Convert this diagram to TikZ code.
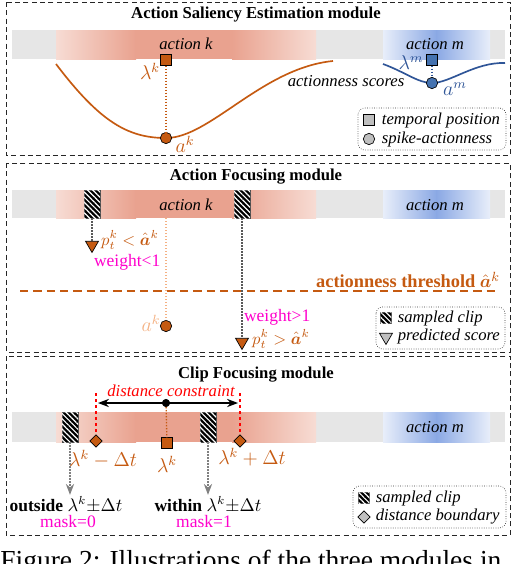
\documentclass[tikz,border=0pt]{standalone}
\usepackage{fontspec}
\setmainfont{Liberation Serif}
\usepackage{bm}
\usepackage{amsmath}
\usetikzlibrary{shapes.geometric,patterns.meta,arrows.meta}

\definecolor{korange}{RGB}{197,90,17}
\definecolor{kpale}{RGB}{244,177,131}
\definecolor{mblue}{RGB}{47,85,151}
\definecolor{mfill}{RGB}{68,114,176}
\definecolor{wpink}{RGB}{255,0,204}
\definecolor{barback}{RGB}{230,230,230}
\definecolor{redpeak}{RGB}{233,162,143}
\definecolor{redpale}{RGB}{247,220,212}
\definecolor{bluepeak}{RGB}{138,168,228}
\definecolor{bluepale}{RGB}{232,238,250}
\definecolor{lgrey}{RGB}{191,191,191}

\begin{document}
\begin{tikzpicture}[x=.6pt, y=-.6pt, >=Stealth,
  tpos/.style={draw, rectangle, minimum size=6.4pt, inner sep=0},
  spike/.style={draw, circle, minimum size=6.8pt, inner sep=0},
  score/.style={draw, regular polygon, regular polygon sides=3,
    shape border rotate=180, minimum size=9pt, inner sep=0},
  bound/.style={draw, diamond, minimum size=7.6pt, inner sep=0},
  sampled/.style={draw=gray!60!black, fill=black, minimum width=9.6pt,
    minimum height=#1, inner sep=0, postaction={pattern={Lines[angle=-45,
    distance=2.2pt, line width=.7pt]}, pattern color=white}},
  sampled/.default=16.8pt,
  legendbox/.style={draw=gray!40!black, densely dotted, rounded corners=4pt},
  lab/.style={anchor=west, font=\itshape},
  mlab/.style={font=\fontsize{11.5}{13}\selectfont, inner sep=1pt},
  small/.style={font=\fontsize{10.5}{12}\selectfont, inner sep=1pt}]
\useasboundingbox (0,0) rectangle (512,564);

\foreach \t/\b in {2/155, 163/352, 356/535}
  \draw [densely dashed, gray!30!black] (6,\t) rectangle (510,\b);
\foreach \t/\b in {30/59, 190/218, 412/442} {
  \fill [barback] (12,\t) rectangle (505,\b);
  \shade [left color=redpale, right color=redpeak] (56,\t) rectangle (136,\b);
  \fill [redpeak] (135,\t) rectangle (233,\b);
  \shade [left color=redpeak, right color=redpale] (232,\t) rectangle (316,\b);
  \shade [left color=bluepale, right color=bluepeak] (383,\t) rectangle (437,\b);
  \shade [left color=bluepeak, right color=bluepale] (436,\t) rectangle (490,\b);
}

% action saliency estimation
\node [font=\bfseries] (t1) at (256,15) {Action Saliency Estimation module};
\node [font=\itshape] (ka) at (186,44) {action k};
\node [font=\itshape] (ma) at (435,44) {action m};
\draw [korange, line width=1pt] (56,64) .. controls (100,122) and (128,138) ..
  (166,138) .. controls (210,138) and (262,68) .. (333,61);
\draw [mblue, line width=1pt] (383,64) .. controls (405,72) and (418,83) ..
  (432,83) .. controls (450,83) and (475,62) .. (505,63);
\node [tpos, fill=korange] (lk) at (166,60) {};
\node [spike, fill=korange] (ak) at (166,138) {};
\draw [korange, densely dotted, thick] (lk) -- (ak);
\node [korange, mlab] (lkl) at (150,71) {$\lambda^k$};
\node [korange, mlab] (akl) at (185,144) {$a^k$};
\node [tpos, fill=mfill] (lm) at (432,60) {};
\node [spike, fill=mfill] (am) at (432,83) {};
\draw [mblue, densely dotted, thick] (lm) -- (am);
\node [mblue, mlab] (lml) at (411,63) {$\lambda^m$};
\node [mblue, mlab] (aml) at (455,89) {$a^m$};
\node [font=\itshape] (sc) at (346,81) {actionness scores};
\draw [legendbox] (358,108) rectangle (506,150);
\node [tpos, fill=lgrey] (g1) at (369,120) {};
\node [lab] at (376,120) {temporal position};
\node [spike, fill=lgrey] (g2) at (369,139) {};
\node [lab] at (376,139) {spike-actionness};

% action focusing
\node [font=\bfseries] (t2) at (256,177) {Action Focusing module};
\node [font=\itshape] (ka2) at (186,205) {action k};
\node [font=\itshape] (ma2) at (435,205) {action m};
\draw [korange, line width=1.2pt, dash pattern=on 5pt off 3pt] (20,291) -- (495,291);
\node [korange, font=\fontsize{11}{13}\selectfont\bfseries, anchor=east,
  inner sep=1pt] (th) at (502,280) {actionness threshold $\bm{\hat a}^k$};
\node [sampled] (c1) at (92,204) {};
\node [sampled] (c2) at (242,204) {};
\node [score, fill=korange] (p1) at (92,245) {};
\node [score, fill=korange] (p2) at (242,342) {};
\draw [gray!70!black, densely dotted, thick] (c1) -- (p1);
\draw [gray!70!black, densely dotted, thick] (c2) -- (p2);
\node [korange, anchor=west, inner sep=.5pt] (p1l) at (100,240)
  {$p_t^k<\bm{\hat a}^k$};
\node [wpink, anchor=west, small] (w1) at (92,262) {weight<1};
\node [wpink, anchor=west, small] (w2) at (242,317) {weight>1};
\node [korange, anchor=west, inner sep=.5pt] (p2l) at (251,339)
  {$p_t^k>\bm{\hat a}^k$};
\coordinate (kb) at (166,218);
\node [spike, fill=korange] (ak2) at (166,326) {};
\draw [kpale, densely dotted, thick] (kb) -- (ak2);
\node [kpale, mlab] (ak2l) at (151,323) {$a^k$};
\draw [legendbox] (376,307) rectangle (505,349);
\node [sampled=6.4pt, minimum width=6.4pt] (g3) at (386,318) {};
\node [lab] at (392,318) {sampled clip};
\node [score, fill=lgrey] (g4) at (386,337) {};
\node [lab] at (392,336) {predicted score};

% clip focusing
\node [font=\bfseries] (t3) at (256,375) {Clip Focusing module};
\node [red, font=\itshape, inner sep=1pt] (dc) at (171,391) {distance constraint};
\node [font=\itshape] (ma3) at (435,427) {action m};
\node [sampled=18pt] (c3) at (70,427) {};
\node [sampled=18pt] (c4) at (208,427) {};
\node [bound, fill=korange] (b1) at (96,441) {};
\node [bound, fill=korange] (b2) at (240,441) {};
\node [tpos, fill=korange] (lk3) at (167,443) {};
\coordinate (rl) at (96,393);
\coordinate (rr) at (240,393);
\draw [red, dotted, line width=1.6pt] (rl) -- (b1) (rr) -- (b2);
\coordinate (cl) at (98,403);
\coordinate (cr) at (238,403);
\draw [<->, thick] (cl) -- (cr);
\node [spike, fill=black, minimum size=4.4pt] (mid) at (166,403) {};
\draw [korange, densely dotted, thick] (mid) -- (lk3);
\node [korange, mlab] (bl1) at (103,459) {$\lambda^k-\Delta t$};
\node [korange, mlab] (lk3l) at (167,464) {$\lambda^k$};
\node [korange, mlab] (bl2) at (252,457) {$\lambda^k+\Delta t$};
\node [small] (out) at (66,505) {\textbf{outside} $\lambda^k{\pm}\Delta t$};
\node [small] (in) at (208,505) {\textbf{within} $\lambda^k{\pm}\Delta t$};
\node [wpink, small] (m0) at (68,522) {mask=0};
\node [wpink, small] (m1) at (204,522) {mask=1};
\draw [->, gray, densely dotted, thick] (c3) -- (c3 |- out.north);
\draw [->, gray, densely dotted, thick] (c4) -- (c4 |- in.north);
\draw [legendbox] (353,486) rectangle (506,528);
\node [sampled=6.4pt, minimum width=6.4pt] (g5) at (364,498) {};
\node [lab] at (370,498) {sampled clip};
\node [bound, fill=lgrey] (g6) at (364,517) {};
\node [lab] at (370,517) {distance boundary};

\node [anchor=base west, inner sep=0, font=\fontsize{16.5}{20}\selectfont] (cap)
  at (0,569) {Figure 2: Illustrations of the three modules in};
\end{tikzpicture}
\end{document}
